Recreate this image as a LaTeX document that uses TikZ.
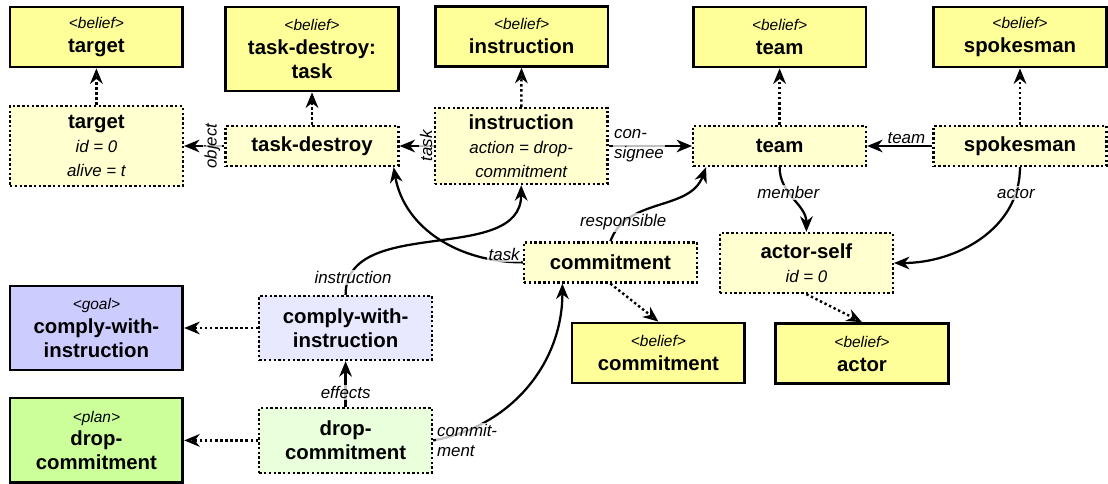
\documentclass[tikz,border=0pt]{standalone}
\usepackage{fontspec}
\setmainfont{Liberation Sans}
\usepackage{tikz}
\usetikzlibrary{arrows.meta,calc}
\definecolor{beliefYellow}{HTML}{FFFF99}
\definecolor{instYellow}{HTML}{FFFFD0}
\definecolor{goalBlue}{HTML}{CCCCFF}
\definecolor{instBlue}{HTML}{E8E8FF}
\definecolor{planGreen}{HTML}{CCFF99}
\definecolor{instGreen}{HTML}{EAFFDC}
\newcommand{\kindtag}[1]{{\normalfont\itshape\fontsize{11}{13}\selectfont <#1>}}
\newcommand{\attrline}[1]{{\normalfont\itshape\fontsize{12}{15}\selectfont #1}}
\tikzset{
  frame/.style={align=center, minimum width=4.32cm, inner sep=2pt,
    font=\bfseries\fontsize{14.5}{17}\selectfont},
  belief/.style={frame, draw, line width=2pt, fill=beliefYellow, minimum height=1.5cm},
  inst/.style={frame, draw, line width=1.7pt, dash pattern=on 1.7pt off 1.7pt,
    fill=instYellow, minimum height=1cm},
  rel/.style={line width=1.6pt, -{Stealth[length=11pt,width=9pt,inset=3.5pt]}},
  isa/.style={line width=1.7pt, dash pattern=on 1.7pt off 1.9pt,
    -{Stealth[length=11pt,width=9pt,inset=3.5pt,open,fill=white]}},
  elabel/.style={font=\itshape\fontsize{12}{14}\selectfont, fill=white,
    fill opacity=0.75, text opacity=1, inner sep=1pt}
}

\begin{document}
\begin{tikzpicture}
\useasboundingbox (0,0) rectangle (27.7,-12.1);
% belief frames along the top
\node[belief] (bTarget) at (2.41,-0.925) {\kindtag{belief}\\target};
\node[belief, minimum height=2.1cm] (bTaskDestroy) at (7.8,-1.225) {\kindtag{belief}\\task-destroy:\\task};
\node[belief] (bInstruction) at (13.04,-0.91) {\kindtag{belief}\\instruction};
\node[belief] (bTeam) at (19.49,-0.925) {\kindtag{belief}\\team};
\node[belief] (bSpokesman) at (25.5,-0.925) {\kindtag{belief}\\spokesman};
% instances
\node[inst, minimum height=2cm] (target) at (2.41,-3.65) {target\\\attrline{id = 0}\\\attrline{alive = t}};
\node[inst] (taskDestroy) at (7.8,-3.65) {task-destroy};
\node[inst, minimum height=1.9cm] (instruction) at (13.03,-3.65) {instruction\\\attrline{action = drop-}\\\attrline{commitment}};
\node[inst] (team) at (19.49,-3.65) {team};
\node[inst] (spokesman) at (25.5,-3.65) {spokesman};
\node[inst] (commitment) at (15.26,-6.56) {commitment};
\node[inst, minimum height=1.5cm] (actorSelf) at (20.16,-6.575) {actor-self\\\attrline{id = 0}};
\node[inst, fill=instBlue, minimum height=1.6cm] (comply) at (8.64,-8.2) {comply-with-\\instruction};
\node[inst, fill=instGreen, minimum height=1.62cm] (drop) at (8.64,-11.01) {drop-\\commitment};
% lower frames
\node[belief] (bCommitment) at (16.46,-8.825) {\kindtag{belief}\\commitment};
\node[belief] (bActor) at (21.55,-8.84) {\kindtag{belief}\\actor};
\node[belief, fill=goalBlue, minimum height=2.1cm] (goal) at (2.41,-8.2) {\kindtag{goal}\\comply-with-\\instruction};
\node[belief, fill=planGreen, minimum height=2.12cm] (plan) at (2.41,-11.01) {\kindtag{plan}\\drop-\\commitment};

% instance-of links
\draw[isa] (target) -- (bTarget);
\draw[isa] (taskDestroy) -- (bTaskDestroy);
\draw[isa] (instruction) -- (bInstruction);
\draw[isa] (team) -- (bTeam);
\draw[isa] (spokesman) -- (bSpokesman);
\draw[isa] (commitment.south) -- (bCommitment.north);
\draw[isa] (actorSelf.south) -- (bActor.north);
\draw[isa] (comply) -- (goal);
\draw[isa] (drop) -- (plan);

% slot links
\draw[rel] (taskDestroy.west) -- node[elabel, rotate=90, pos=0.3] {object} (target.east);
\draw[rel] (instruction.west) -- node[elabel, rotate=90, pos=0.22] {task} (instruction.west -| taskDestroy.east);
\draw[rel] (instruction.east) -- node[elabel, anchor=west, align=left, pos=0, xshift=2pt] {con-\\signee} (instruction.east -| team.west);
\draw[rel] (spokesman.west) -- node[above, pos=0.4, inner sep=1pt, font=\itshape\fontsize{12}{14}\selectfont] {team} (team.east);
\draw[rel] (team.south) to[out=-90, in=90] node[elabel, pos=0.38] {member} (actorSelf.north);
\draw[rel] (spokesman.south) to[out=-90, in=0] node[elabel, pos=0.15] {actor} (actorSelf.east);
\draw[rel] (commitment.west) to[out=180, in=-80] node[elabel, pos=0.1, yshift=5pt] {task} ($(taskDestroy.south east)+(-0.15,0)$);
\draw[rel] (commitment.north) to[out=70, in=-110] node[elabel, pos=0.18] {responsible} ($(team.south west)+(0.35,0)$);
\draw[rel] (comply.north) to[out=90, in=-90] node[elabel, pos=0.08, xshift=3pt] {instruction} (instruction.south);
\draw[rel] (drop.north) -- node[elabel, pos=0.31] {effects} (comply.south);
\draw[rel] (drop.east) to[out=10, in=-90] node[elabel, anchor=west, align=left, pos=0, xshift=1pt] {commit-\\ment} ($(commitment.south)+(-1.2,0)$);
\end{tikzpicture}
\end{document}
